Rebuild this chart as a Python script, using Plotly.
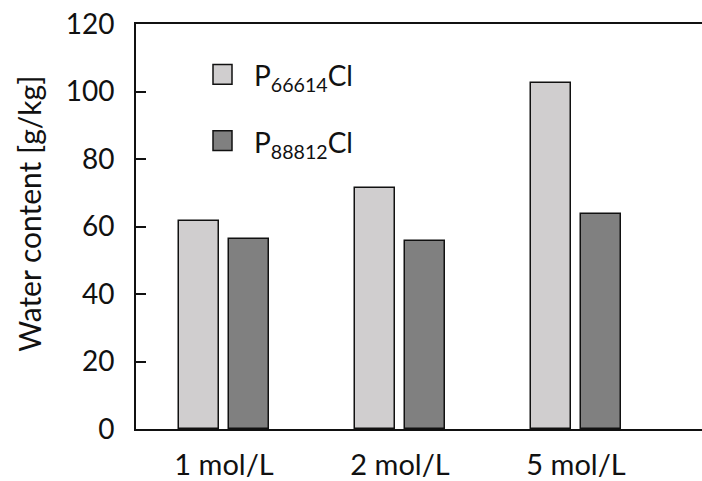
import plotly.graph_objects as go

categories = ["1 mol/L", "2 mol/L", "5 mol/L"]
p66614 = [61.5, 71.4, 102.6]
p88812 = [56.3, 55.6, 63.6]
series_names = ["P<sub>66614</sub>Cl", "P<sub>88812</sub>Cl"]
y_ticks = [0, 20, 40, 60, 80, 100, 120]
y_title = "Water content [g/kg]"

FONT = "Lato"
LIGHT = "#d0cecf"
DARK = "#808080"

fig = go.Figure()
fig.add_trace(go.Bar(x=categories, y=p66614, name=series_names[0],
                     marker=dict(color=LIGHT, line=dict(color="#111", width=1.5)),
                     width=0.227, offset=-0.256, showlegend=False))
fig.add_trace(go.Bar(x=categories, y=p88812, name=series_names[1],
                     marker=dict(color=DARK, line=dict(color="#111", width=1.5)),
                     width=0.227, offset=0.028, showlegend=False))

# manual legend (paper coords)
W, H = 566.0, 410.0
L, T = 136.0, 24.0
def px(x): return (x - L) / W
def py(y): return (T + H - y) / H

for i, (col, name) in enumerate(zip([LIGHT, DARK], series_names)):
    y0 = 65 + i * 67
    fig.add_shape(type="rect", xref="paper", yref="paper",
                  x0=px(213), x1=px(232), y0=py(y0 + 20), y1=py(y0),
                  fillcolor=col, line=dict(color="#111", width=1.5))
    fig.add_annotation(xref="paper", yref="paper", x=px(252), y=py(y0 + 13),
                       text=name, showarrow=False, xanchor="left", yanchor="middle",
                       font=dict(family=FONT, size=28, color="#111"))

# y-axis title
fig.add_annotation(xref="paper", yref="paper", x=px(29), y=py(216),
                   text=y_title, textangle=-90, showarrow=False,
                   xanchor="center", yanchor="middle",
                   font=dict(family=FONT, size=30, color="#111"))

fig.update_layout(
    width=702, height=481,
    margin=dict(l=136, r=0, t=24, b=47),
    paper_bgcolor="white", plot_bgcolor="white",
    font=dict(family=FONT, size=27, color="#111"),
    bargap=0.0,
)
fig.update_xaxes(range=[-0.5, 2.716], showline=True, linecolor="#111", linewidth=2,
                 mirror=True, ticks="", showgrid=False, zeroline=False,
                 tickfont=dict(size=29), ticklabelstandoff=9)
fig.update_yaxes(range=[0, 120], tickvals=y_ticks, showline=True, linecolor="#111",
                 linewidth=2, ticks="inside", ticklen=10, tickwidth=1.5, tickcolor="#111",
                 showgrid=False, zeroline=False, tickfont=dict(size=28),
                 ticklabelstandoff=14)

fig.write_html("out.html", config={"displayModeBar": False},
               post_script="document.body.style.margin='0';document.body.style.overflow='hidden';")
